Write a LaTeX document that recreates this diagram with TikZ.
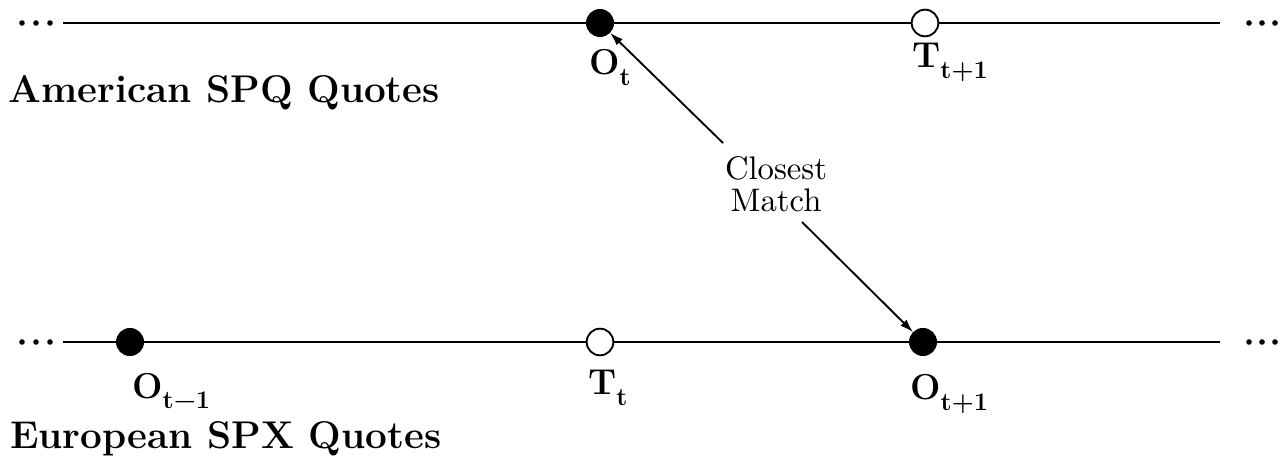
\documentclass[tikz,border=0pt]{standalone}
\usepackage{fontspec}
\newfontfamily\cmten{lmroman10-regular}[Extension=.otf]
\usetikzlibrary{arrows.meta}
\tikzset{
  x=0.75pt, y=-0.75pt,
  axis/.style={line width=1.8pt},
  full/.style={circle, fill=black, draw=black, line width=1pt, minimum size=20pt, inner sep=0pt},
  hollow/.style={circle, fill=white, draw=black, line width=1.4pt, minimum size=20pt, inner sep=0pt},
  lbl/.style={font=\fontsize{27}{30}\bfseries, anchor=base west, inner sep=0pt},
  ttl/.style={font=\fontsize{29}{32}\bfseries, anchor=base west, inner sep=0pt},
  matchlbl/.style={font=\fontsize{24.5}{24}\cmten, align=center, inner sep=0pt},
  arr/.style={line width=1.4pt, -{Latex[length=10pt,width=6.5pt]}},
  smalldot/.style={circle, fill=black, inner sep=0pt, minimum size=4.2pt}
}
\newcommand\lsub[1]{\raisebox{-0.28em}{\fontsize{19}{20}\bfseries #1}}
\begin{document}
\begin{tikzpicture}
\useasboundingbox (0,0) rectangle (1281,459);
% top axis
\coordinate (tl) at (63,23);
\coordinate (tr) at (1220,23);
\draw[axis] (tl) -- (tr);
\foreach \i/\x in {1/22,2/36,3/50} \node[smalldot] (dtl\i) at (\x,23) {};
\foreach \i/\x in {1/1249,2/1262,3/1275} \node[smalldot] (dtr\i) at (\x,23) {};
\node[full] (Ot) at (600,23) {};
\node[hollow] (Tt1) at (925,23) {};
\node[lbl] (lOt) at (589,75) {O\lsub{t}};
\node[lbl] (lTt1) at (912,68) {T\lsub{t+1}};
\node[ttl] (am) at (8,103) {American SPQ Quotes};
% bottom axis
\coordinate (bl) at (63,342);
\coordinate (br) at (1220,342);
\draw[axis] (bl) -- (br);
\foreach \i/\x in {1/22,2/36,3/50} \node[smalldot] (dbl\i) at (\x,342) {};
\foreach \i/\x in {1/1249,2/1262,3/1275} \node[smalldot] (dbr\i) at (\x,342) {};
\node[full] (Otm1) at (130,342) {};
\node[hollow] (Tt) at (600,342) {};
\node[full] (Otp1) at (923,342) {};
\node[lbl] (lOtm1) at (132,398) {O\lsub{t−1}};
\node[lbl] (lTt) at (588,395) {T\lsub{t}};
\node[lbl] (lOtp1) at (910,400) {O\lsub{t+1}};
\node[ttl] (eu) at (10,448) {European SPX Quotes};
% closest match
\node[matchlbl] (cm) at (776,184) {Closest\\Match};
\coordinate (s1) at (723,143);
\coordinate (s2) at (802,222);
\draw[arr] (s1) -- (Ot);
\draw[arr] (s2) -- (Otp1);
\end{tikzpicture}
\end{document}
